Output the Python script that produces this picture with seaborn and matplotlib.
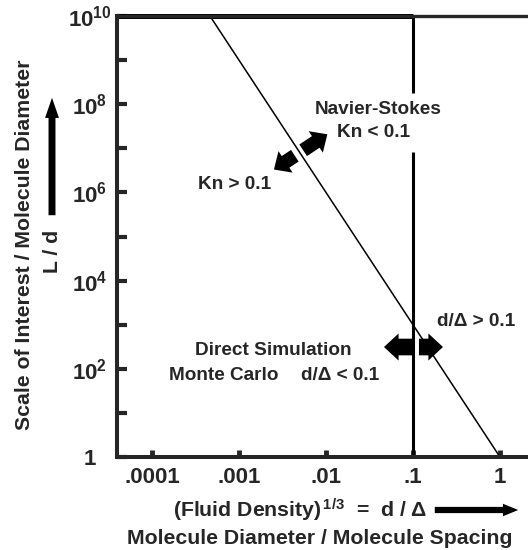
import matplotlib
matplotlib.use("Agg")
import matplotlib.pyplot as plt
import seaborn as sns

# data
density_vals = [4.64e-4, 1e-3, 1e-2, 1e-1, 1.0]
scale_vals = [1e10, 1e9, 1e6, 1e3, 1.0]
boundary = 0.1
x_ticks = [1e-4, 1e-3, 1e-2, 1e-1, 1.0]
x_labels = [".0001", ".001", ".01", ".1", "1"]
y_ticks = [1, 1e2, 1e4, 1e6, 1e8, 1e10]
y_labels = ["1", "$10^2$", "$10^4$", "$10^6$", "$10^8$", "$10^{10}$"]
y_minor = [1e1, 1e3, 1e5, 1e7, 1e9]

sns.set_style("white")
plt.rcParams["font.family"] = ["Liberation Sans", "DejaVu Sans"]
plt.rcParams["font.weight"] = "bold"
plt.rcParams["mathtext.fontset"] = "custom"
plt.rcParams["mathtext.rm"] = "Liberation Sans:bold"
plt.rcParams["mathtext.bf"] = "Liberation Sans:bold"
plt.rcParams["mathtext.it"] = "Liberation Sans:bold"

fig = plt.figure(figsize=(5.28, 5.5), dpi=100, facecolor="white")
# axes run well past the right edge of the canvas, as in the original scan
ax = fig.add_axes([117 / 528, 93 / 550, 483 / 528, 441 / 550])

sns.lineplot(x=density_vals, y=scale_vals, ax=ax, color="black", lw=1.1,
             sort=False, estimator=None)
ax.set_xscale("log")
ax.set_yscale("log")
xmin, xmax = 10 ** -4.402, 10 ** 1.150
ax.set_xlim(xmin, xmax)
ax.set_ylim(1, 1e10)

# vertical boundary at d/delta = 0.1, broken where the Navier-Stokes label sits
ax.vlines([boundary, boundary], [1, 10 ** 8.25], [10 ** 6.92, 1e10],
          color="black", lw=2.2)
ax.hlines(1e10, xmin, boundary, color="black", lw=3.6, clip_on=False)

ax.set_xticks(x_ticks)
ax.set_xticklabels(x_labels)
ax.set_yticks(y_ticks)
ax.set_yticklabels(y_labels)
ax.set_yticks(y_minor, minor=True)
ax.yaxis.set_minor_formatter(matplotlib.ticker.NullFormatter())
ax.xaxis.set_minor_locator(matplotlib.ticker.NullLocator())
ax.tick_params(axis="x", which="both", direction="in", length=5, width=3.5,
               labelsize=16, pad=7, bottom=True, top=False)
ax.tick_params(axis="y", which="both", direction="in", length=7, width=3,
               labelsize=16, pad=19.5, left=True, right=False)
plt.setp(ax.get_yticklabels(), ha="center")

for side in ["left", "bottom"]:
    ax.spines[side].set_linewidth(2.9)
ax.spines["top"].set_linewidth(2.4)
ax.spines["right"].set_visible(False)

fs = 13.7
ax.text(10 ** -1.402, 10 ** 7.89, "Navier-Stokes", ha="center", va="center", fontsize=fs)
ax.text(10 ** -1.448, 10 ** 7.35, "Kn < 0.1", ha="center", va="center", fontsize=fs)
ax.text(10 ** -3.471, 10 ** 6.17, "Kn > 0.1", ha="left", va="center", fontsize=fs)
ax.text(10 ** -3.506, 10 ** 2.415, "Direct Simulation", ha="left", va="center", fontsize=fs)
ax.text(10 ** -3.805, 10 ** 1.85, "Monte Carlo", ha="left", va="center", fontsize=fs)
ax.text(10 ** -2.287, 10 ** 1.85, "d/\u0394 < 0.1", ha="left", va="center", fontsize=fs)
ax.text(10 ** -0.724, 10 ** 3.08, "d/\u0394 > 0.1", ha="left", va="center", fontsize=fs)

kn_style = "simple,head_length=1.0,head_width=1.85,tail_width=1.0"
dd_style = "simple,head_length=1.05,head_width=1.95,tail_width=1.2"
arrows = [
    ((10 ** -1.984, 10 ** 7.318), (-24.2, -16.0), kn_style),
    ((10 ** -2.598, 10 ** 6.519), (20.9, 13.75), kn_style),
    ((10 ** -1.333, 10 ** 2.494), (28, 0), dd_style),
    ((10 ** -0.655, 10 ** 2.494), (-24, 0), dd_style),
]
for tip, off, style in arrows:
    ax.annotate("", xy=tip, xytext=off, textcoords="offset pixels",
                arrowprops=dict(arrowstyle=style, fc="black", ec="black",
                                lw=0, shrinkA=0, shrinkB=0, mutation_scale=10))

# axis titles
fs_lab = 15.3
fig.text(25 / 528, 1 - 245 / 550, "Scale of Interest / Molecule Diameter",
         rotation=90, ha="center", va="center", fontsize=fs_lab)
fig.text(52 / 528, 1 - 251 / 550, "L / d", rotation=90, ha="center",
         va="center", fontsize=fs_lab)
fig.text(300 / 528, 1 - 510 / 550, "(Fluid Density)$^{\\,1/3}$  =  d / \u0394",
         ha="center", va="center", fontsize=fs_lab)
fig.text(320 / 528, 1 - 538 / 550, "Molecule Diameter / Molecule Spacing",
         ha="center", va="center", fontsize=fs_lab)

fig.add_artist(matplotlib.patches.FancyArrowPatch(
    (52, 550 - 218), (52, 550 - 95), transform=None,
    arrowstyle="simple,head_length=1.45,head_width=1.0,tail_width=0.5",
    mutation_scale=10, fc="black", ec="black", lw=0))
fig.add_artist(matplotlib.patches.FancyArrowPatch(
    (432, 40), (521, 40), transform=None,
    arrowstyle="simple,head_length=1.1,head_width=0.9,tail_width=0.45",
    mutation_scale=10, fc="black", ec="black", lw=0))

fig.savefig("out.png", dpi=100)
